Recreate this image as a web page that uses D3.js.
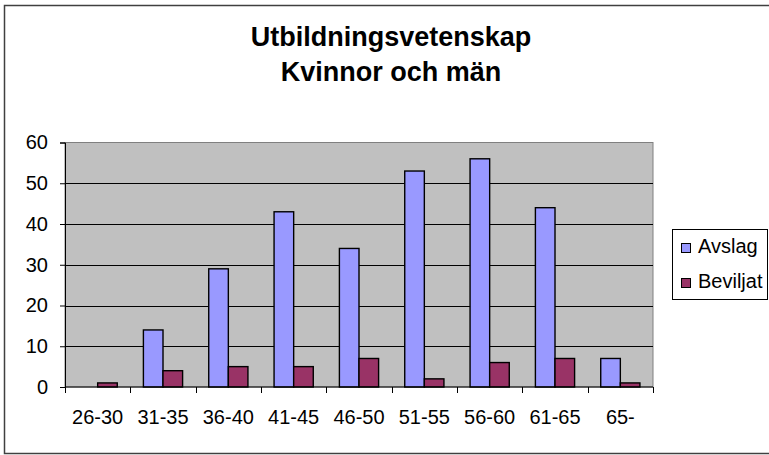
<!DOCTYPE html>
<html>
<head>
<meta charset="utf-8">
<script src="https://cdn.jsdelivr.net/npm/d3@7"></script>
<style>
  body { margin: 0; background: #fff; }
  text { font-family: Arial, "Liberation Sans", sans-serif; }
</style>
</head>
<body>
<svg id="chart" width="769" height="455"></svg>
<script>
// data
var categories = ["26-30", "31-35", "36-40", "41-45", "46-50", "51-55", "56-60", "61-65", "65-"];
var avslag = [0, 14, 29, 43, 34, 53, 56, 44, 7];
var beviljat = [1, 4, 5, 5, 7, 2, 6, 7, 1];
var seriesNames = ["Avslag", "Beviljat"];
var seriesColors = ["#9999FF", "#993366"];
var yTicks = [0, 10, 20, 30, 40, 50, 60];
var titleLines = ["Utbildningsvetenskap", "Kvinnor och män"];

var svg = d3.select("#chart");

// outer chart frame
svg.append("rect")
    .attr("x", 4.5).attr("y", 5.5)
    .attr("width", 770).attr("height", 448)
    .attr("fill", "#fff")
    .attr("stroke", "#404040")
    .attr("stroke-width", 1.5);

// title
svg.selectAll(".title").data(titleLines).enter().append("text")
    .attr("class", "title")
    .attr("x", 391)
    .attr("y", function(d, i) { return 46 + i * 35; })
    .attr("text-anchor", "middle")
    .style("font-size", "27px")
    .style("font-weight", "bold")
    .text(function(d) { return d; });

var plot = {left: 65, right: 653, top: 142.5, bottom: 387};

var x = d3.scaleBand().domain(categories).range([plot.left, plot.right]);
var y = d3.scaleLinear().domain([0, 60]).range([plot.bottom, plot.top]);

// plot background
svg.append("rect")
    .attr("x", plot.left).attr("y", plot.top)
    .attr("width", plot.right - plot.left).attr("height", plot.bottom - plot.top)
    .attr("fill", "#C0C0C0")
    .attr("stroke", "#808080");

// gridlines
svg.selectAll(".grid").data(yTicks.filter(function(d) { return d > 0 && d < 60; })).enter().append("line")
    .attr("x1", plot.left).attr("x2", plot.right)
    .attr("y1", function(d) { return Math.round(y(d)) + 0.5; })
    .attr("y2", function(d) { return Math.round(y(d)) + 0.5; })
    .attr("stroke", "#000");

// bars
var bw = x.bandwidth() * 0.3;
var off = x.bandwidth() * 0.2;
var rows = categories.map(function(c, i) {
    return {cat: c, vals: [{s: 0, v: avslag[i]}, {s: 1, v: beviljat[i]}]};
});

var groups = svg.selectAll(".grp").data(rows).enter().append("g")
    .attr("transform", function(d) { return "translate(" + x(d.cat) + ",0)"; });

groups.selectAll("rect")
    .data(function(d) { return d.vals.filter(function(e) { return e.v > 0; }); })
    .enter().append("rect")
    .attr("x", function(e) { return off + e.s * bw; })
    .attr("y", function(e) { return y(e.v); })
    .attr("width", bw)
    .attr("height", function(e) { return y(0) - y(e.v); })
    .attr("fill", function(e) { return seriesColors[e.s]; })
    .attr("stroke", "#000")
    .attr("stroke-width", 1.4);

// y axis
var yAxis = d3.axisLeft(y).tickValues(yTicks).tickSize(5).tickPadding(12);
var gy = svg.append("g").attr("transform", "translate(" + plot.left + ",0)").call(yAxis);
gy.select(".domain").attr("stroke", "#000");
gy.selectAll("text").style("font-size", "20px").attr("fill", "#000").attr("font-family", null);

// x axis: ticks on the category boundaries
var gx = svg.append("g").attr("transform", "translate(0," + plot.bottom + ")");
gx.append("line").attr("x1", plot.left).attr("x2", plot.right).attr("stroke", "#000");
var bounds = categories.map(function(c) { return x(c); }).concat([plot.right]);
gx.selectAll(".tk").data(bounds).enter().append("line")
    .attr("x1", function(d) { return Math.round(d) + 0.5; })
    .attr("x2", function(d) { return Math.round(d) + 0.5; })
    .attr("y1", 0).attr("y2", 6)
    .attr("stroke", "#000");
gx.selectAll(".lbl").data(categories).enter().append("text")
    .attr("x", function(d) { return x(d) + x.bandwidth() / 2; })
    .attr("y", 37)
    .attr("text-anchor", "middle")
    .style("font-size", "20px")
    .text(function(d) { return d; });

// legend
var lg = svg.append("g");
lg.append("rect")
    .attr("x", 672.5).attr("y", 229.5)
    .attr("width", 95).attr("height", 70)
    .attr("fill", "#fff").attr("stroke", "#000");
var items = lg.selectAll(".it").data(seriesNames).enter().append("g")
    .attr("transform", function(d, i) { return "translate(0," + (i * 35) + ")"; });
items.append("rect")
    .attr("x", 681.5).attr("y", 243.5)
    .attr("width", 9).attr("height", 9)
    .attr("fill", function(d, i) { return seriesColors[i]; })
    .attr("stroke", "#000");
items.append("text")
    .attr("x", 698).attr("y", 253)
    .style("font-size", "20px")
    .text(function(d) { return d; });
</script>
</body>
</html>
